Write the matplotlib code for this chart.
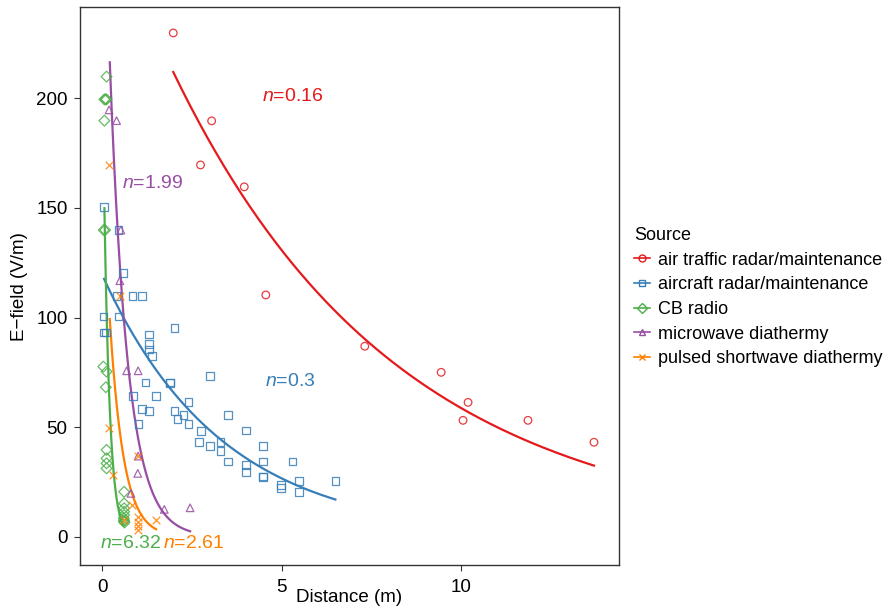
import numpy as np
import matplotlib
matplotlib.use("Agg")
import matplotlib.pyplot as plt
from matplotlib.lines import Line2D

plt.rcParams['font.family'] = ['Liberation Sans', 'DejaVu Sans']
plt.rcParams['mathtext.fontset'] = 'custom'
plt.rcParams['mathtext.it'] = 'Liberation Sans:italic'
plt.rcParams['mathtext.rm'] = 'Liberation Sans'

# sources / legend labels
sources = ['air traffic radar/maintenance', 'aircraft radar/maintenance',
           'CB radio', 'microwave diathermy', 'pulsed shortwave diathermy']
colors = ['#E41A1C', '#377EB8', '#4DAF4A', '#984EA3', '#FF7F00']
markers = ['o', 's', 'D', '^', 'x']

# measured points (distance m, E-field V/m)
air_x = [1.98, 3.05, 2.74, 3.96, 4.56, 7.32, 9.45, 10.2, 10.06, 11.87, 13.71]
air_y = [229.8, 189.7, 169.6, 159.6, 110.3, 86.9, 75.0, 61.3, 53.1, 53.1, 43.1]

acft_x = [0.05, 0.45, 0.58, 0.40, 0.84, 1.10, 0.03, 0.45, 0.05, 0.10, 2.01, 1.30,
          1.30, 1.30, 1.39, 1.21, 1.89, 1.89, 3.00, 0.85, 1.50, 2.40, 1.10, 1.31,
          2.01, 2.26, 2.10, 2.40, 1.01, 3.50, 2.75, 4.00, 2.70, 3.00, 3.30, 3.30,
          3.50, 4.00, 4.00, 4.49, 4.49, 4.49, 4.49, 5.30, 4.99, 4.99, 5.49, 5.49, 6.50]
acft_y = [150.3, 139.9, 120.2, 109.8, 109.8, 109.8, 100.4, 100.4, 93.2, 93.2, 95.2, 92.3,
          87.8, 85.5, 82.4, 70.3, 70.3, 70.0, 73.3, 64.2, 64.2, 61.5, 58.4, 57.3,
          57.3, 55.4, 53.6, 51.3, 51.3, 55.4, 48.2, 48.5, 43.3, 41.4, 43.3, 39.2,
          34.4, 32.6, 29.5, 41.4, 34.4, 27.4, 27.2, 34.4, 23.6, 22.1, 25.4, 20.4, 25.4]

cb_x = [0.12, 0.06, 0.12, 0.09, 0.06, 0.04, 0.08, 0.03, 0.12, 0.10, 0.12, 0.12,
        0.12, 0.12, 0.61, 0.61, 0.61, 0.61, 0.61, 0.61, 0.60, 0.62, 0.60]
cb_y = [209.9, 199.5, 199.5, 199.5, 189.8, 139.9, 139.9, 77.6, 75.3, 68.2, 39.6, 35.8,
        33.5, 31.2, 20.5, 15.2, 13.0, 11.4, 9.9, 7.6, 7.0, 6.5, 8.5]

mw_x = [0.19, 0.40, 0.52, 0.49, 0.68, 1.00, 1.00, 0.99, 0.80, 1.73, 2.45]
mw_y = [194.7, 189.8, 139.9, 116.8, 75.7, 75.7, 36.8, 28.9, 19.8, 12.5, 13.2]

psw_x = [0.19, 0.50, 0.20, 0.31, 0.82, 0.99, 0.99, 0.99, 0.99, 1.50, 0.99, 0.60]
psw_y = [169.6, 109.8, 49.5, 28.1, 14.5, 9.1, 6.8, 4.9, 3.1, 7.6, 36.8, 7.6]

points_x = [air_x, acft_x, cb_x, mw_x, psw_x]
points_y = [air_y, acft_y, cb_y, mw_y, psw_y]

# exponential fits E = a * exp(-n * d), drawn over the data range
fit_a = [291.0, 119.4, 219.0, 328.7, 171.8]
fit_n = [0.16, 0.3, 6.32, 1.99, 2.61]
fit_start = [1.98, 0.05, 0.06, 0.21, 0.21]
fit_end = [13.71, 6.50, 0.58, 2.45, 1.50]

# label positions for n values
lab_text = ['0.16', '0.3', '6.32', '1.99', '2.61']
lab_x = [4.45, 4.54, -0.05, 0.55, 1.69]
lab_y = [200.6, 71.0, -3.0, 161.0, -3.0]

fig = plt.figure(figsize=(8.91, 6.09), dpi=100)
ax = fig.add_axes([0.0898, 0.0722, 0.6046, 0.9158])

for i in range(len(sources)):
    ax.scatter(points_x[i], points_y[i], marker=markers[i], s=30,
               facecolors='none' if markers[i] != 'x' else colors[i],
               edgecolors=colors[i] if markers[i] != 'x' else None,
               linewidths=0.9, alpha=0.85, zorder=3)
    d = np.linspace(fit_start[i], fit_end[i], 200)
    ax.plot(d, fit_a[i] * np.exp(-fit_n[i] * d), color=colors[i], lw=1.6, zorder=2)
    ax.text(lab_x[i], lab_y[i], '$n$=' + lab_text[i], color=colors[i],
            fontsize=14, ha='left', va='center')

ax.set_xlim(-0.62, 14.4)
ax.set_ylim(-12.9, 241.5)
ax.set_xticks([0, 5, 10])
ax.set_yticks([0, 50, 100, 150, 200])
ax.tick_params(labelsize=13.5, length=4, width=0.8, color='#333333')
ax.tick_params(axis='x', pad=6)
ax.tick_params(axis='y', pad=5)
ax.set_xlabel('Distance (m)', fontsize=13.5, labelpad=-5)
ax.set_ylabel('E\u2212field (V/m)', fontsize=13.5, labelpad=6)
for sp in ax.spines.values():
    sp.set_color('#333333')
    sp.set_linewidth(1.0)

handles = [Line2D([0], [0], color=colors[i], marker=markers[i], markersize=5,
                  markerfacecolor='none', lw=1.2) for i in range(len(sources))]
leg = fig.legend(handles, sources, loc='center left', bbox_to_anchor=(0.7015, 0.512),
                 frameon=False, title='Source', fontsize=13.0, title_fontsize=13.0,
                 handlelength=0.9, handletextpad=0.4, labelspacing=0.42, borderpad=0)
leg._legend_box.align = 'left'

fig.savefig('out.png', dpi=100)
